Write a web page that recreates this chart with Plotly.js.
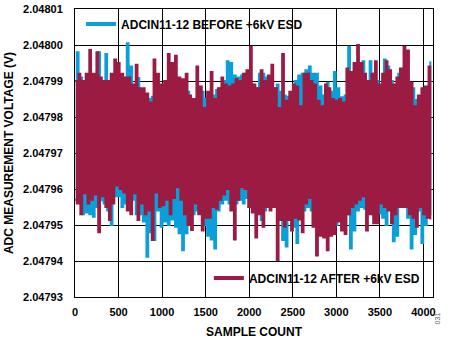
<!DOCTYPE html>
<html>
<head>
<meta charset="utf-8">
<script src="https://cdn.plot.ly/plotly-3.0.1.min.js"></script>
<style>html,body{margin:0;padding:0;background:#fff;}#chart{width:450px;height:339px;}</style>
</head>
<body>
<div id="chart"></div>
<script>
// Samples per envelope bin (each bin holds the max and min)
const binSize = 41;

// ADCIN11-12 BEFORE +6kV ESD (blue) — per-bin max / min (V)
const beforeHi = [2.047998,2.047991,2.04799,2.047989,2.047988,2.047991,2.047998,2.047989,2.0479975,2.047988,
2.047988,2.047989,2.04799,2.04799,2.0480005,2.047994,2.047988,2.0479908,2.047987,2.047986,
2.047985,2.0479856,2.047987,2.047988,2.047987,2.047987,2.047988,2.047988,2.047988,2.047988,
2.047987,2.047987,2.047985,2.047984,2.047986,2.047987,2.047985,2.047985,2.047986,2.0479875,
2.047988,2.04799,2.0479955,2.047995,2.0479915,2.047991,2.0479915,2.047992,2.047991,2.047989,
2.047988,2.047992,2.047992,2.047991,2.047989,2.047988,2.047989,2.047987,2.047986,2.0479856,
2.047986,2.04799,2.0479915,2.047992,2.047993,2.047994,2.047992,2.047992,2.0479885,2.047986,
2.0479895,2.047987,2.0479925,2.047988,2.0479855,2.047986,2.0479995,2.04799,2.047989,2.04799,
2.0479955,2.04799,2.0479955,2.047992,2.04799,2.0479885,2.047996,2.047994,2.04799,2.047988,
2.047992,2.047989,2.047988,2.047989,2.047988,2.0479847,2.047985,2.047986,2.047988,2.0479955];
const beforeLo = [2.047957,2.047957,2.047953,2.0479535,2.047953,2.0479523,2.047955,2.0479569,2.047956,2.047954,
2.04795,2.047958,2.047958,2.047955,2.047956,2.047956,2.047957,2.047953,2.047953,2.047951,
2.0479412,2.047948,2.0479458,2.047954,2.0479495,2.047951,2.04795,2.0479515,2.0479495,2.0479477,
2.047943,2.0479477,2.047952,2.047953,2.047954,2.047955,2.04795,2.047947,2.047946,2.0479435,
2.047954,2.047956,2.047957,2.047956,2.047955,2.047956,2.047957,2.047956,2.0479575,2.047956,
2.047955,2.047954,2.0479514,2.047954,2.047955,2.047955,2.047955,2.047955,2.0479458,2.047944,
2.047952,2.0479495,2.047945,2.047952,2.047954,2.047955,2.047954,2.047954,2.04795,2.04795,
2.047951,2.04795,2.047949,2.04795,2.047952,2.047951,2.047953,2.0479435,2.0479485,2.047954,
2.047955,2.0479545,2.047954,2.047953,2.047953,2.0479532,2.047952,2.04795,2.047957,2.0479455,
2.047947,2.047957,2.047955,2.047952,2.0479435,2.0479475,2.047954,2.047945,2.04795,2.047953];

// ADCIN11-12 AFTER +6kV ESD (maroon) — per-bin max / min (V)
const afterHi = [2.04799,2.047992,2.04799,2.047992,2.0479986,2.047992,2.047998,2.047991,2.04799,2.04799,
2.047992,2.047996,2.047995,2.047992,2.047991,2.047991,2.047989,2.0479945,2.047988,2.047988,
2.0479865,2.047984,2.047996,2.047992,2.047989,2.04799,2.0479975,2.047995,2.047997,2.047991,
2.0479905,2.047992,2.047986,2.047985,2.047994,2.0479885,2.0479825,2.047987,2.0479925,2.047985,
2.047988,2.047991,2.047989,2.0479885,2.047989,2.0479905,2.04799,2.047992,2.047993,2.0479995,
2.047989,2.047988,2.047993,2.04799,2.0479915,2.0479945,2.047988,2.0479825,2.0479975,2.0479845,
2.047987,2.047989,2.0479885,2.047983,2.047992,2.047992,2.04799,2.047989,2.0479845,2.047983,
2.047989,2.047988,2.047985,2.0479845,2.047985,2.047984,2.0479935,2.0479925,2.047995,2.048,
2.047995,2.047992,2.04799,2.047992,2.0479955,2.047989,2.047992,2.0479955,2.047993,2.047989,
2.047991,2.0479935,2.0479995,2.0479985,2.0479895,2.047983,2.047986,2.047988,2.0479885,2.047994];
const afterLo = [2.047956,2.047953,2.0479588,2.047956,2.047957,2.0479585,2.047948,2.047958,2.047955,2.0479514,
2.047956,2.047961,2.04796,2.047959,2.047954,2.047953,2.0479588,2.0479514,2.047956,2.047953,
2.047954,2.0479458,2.047959,2.047955,2.0479555,2.047957,2.047953,2.0479575,2.0479605,2.047957,
2.047953,2.04795,2.0479486,2.047956,2.047953,2.0479485,2.047952,2.047952,2.047955,2.0479545,
2.047957,2.0479585,2.04796,2.047954,2.047946,2.047957,2.0479605,2.04796,2.047955,2.0479535,
2.0479465,2.047953,2.0479495,2.047955,2.047954,2.047955,2.0479403,2.0479514,2.0479495,2.0479514,
2.0479485,2.047952,2.0479515,2.047948,2.047956,2.0479575,2.0479495,2.0479415,2.047947,2.0479465,
2.047943,2.047947,2.0479475,2.047951,2.0479485,2.0479475,2.047953,2.047955,2.047956,2.047957,
2.047958,2.0479485,2.047953,2.0479505,2.0479505,2.047956,2.047955,2.047954,2.0479505,2.047953,
2.047955,2.047955,2.047955,2.047953,2.047952,2.0479495,2.047955,2.047953,2.047952,2.0479515];

const seriesNames = ['ADCIN11-12 BEFORE +6kV ESD', 'ADCIN11-12 AFTER +6kV ESD'];
const xTicks = [0, 500, 1000, 1500, 2000, 2500, 3000, 3500, 4000];
const yTicks = [2.04793, 2.04794, 2.04795, 2.04796, 2.04797, 2.04798, 2.04799, 2.04800, 2.04801];

const blueC = '#0a9fd8';
const redC = '#9b1b42';

// build a stepped noise trace that swings between each bin's max and min
function zig(first, second) {
  const xs = [], ys = [];
  for (let i = 0; i < first.length; i++) {
    xs.push(i * binSize); ys.push(first[i]);
    xs.push(i * binSize + binSize / 2); ys.push(second[i]);
  }
  return {xs, ys};
}
const b = zig(beforeLo, beforeHi);
const a = zig(afterHi, afterLo);

const traces = [
  {x: b.xs, y: b.ys, type: 'scatter', mode: 'lines', name: seriesNames[0],
   line: {color: blueC, width: 2, shape: 'hv'}, showlegend: false, hoverinfo: 'skip'},
  {x: a.xs, y: a.ys, type: 'scatter', mode: 'lines', name: seriesNames[1],
   line: {color: redC, width: 2, shape: 'hv'}, showlegend: false, hoverinfo: 'skip'},
  {x: [null], y: [null], type: 'scatter', mode: 'lines', name: seriesNames[0],
   line: {color: blueC, width: 4}, legend: 'legend'},
  {x: [null], y: [null], type: 'scatter', mode: 'lines', name: seriesNames[1],
   line: {color: redC, width: 4}, legend: 'legend2'}
];

const fontFam = '"Liberation Sans", Arial, sans-serif';
const layout = {
  width: 450, height: 339,
  margin: {l: 75, r: 17, t: 9, b: 42},
  paper_bgcolor: '#fff', plot_bgcolor: '#fff',
  font: {family: fontFam, size: 11, color: '#000', weight: 'bold'},
  xaxis: {
    range: [0, 4110], tickvals: xTicks, ticktext: xTicks.map(String),
    showgrid: true, gridcolor: '#000', gridwidth: 1,
    showline: true, linecolor: '#000', linewidth: 1, mirror: true,
    zeroline: false, ticks: '', ticklabelstandoff: 5,
    tickfont: {family: fontFam, size: 11, weight: 'bold'},
    title: {text: 'SAMPLE COUNT', font: {family: fontFam, size: 12, weight: 'bold'}, standoff: 10}
  },
  yaxis: {
    range: [2.04793, 2.04801], tickvals: yTicks, ticktext: yTicks.map(v => v.toFixed(5)),
    showgrid: true, gridcolor: '#000', gridwidth: 1,
    showline: true, linecolor: '#000', linewidth: 1, mirror: true,
    zeroline: false, ticks: '', ticklabelstandoff: 9,
    tickfont: {family: fontFam, size: 11, weight: 'bold'},
    title: {text: 'ADC MEASUREMENT VOLTAGE (V)', font: {family: fontFam, size: 12, weight: 'bold'}, standoff: 6}
  },
  showlegend: true,
  legend: {x: 0.017, xanchor: 'left', y: 0.948, yanchor: 'middle', bgcolor: 'rgba(0,0,0,0)',
           borderwidth: 0, font: {family: fontFam, size: 12, weight: 'bold', color: '#000'}},
  legend2: {x: 0.374, xanchor: 'left', y: 0.066, yanchor: 'middle', bgcolor: 'rgba(0,0,0,0)',
            borderwidth: 0, font: {family: fontFam, size: 12, weight: 'bold', color: '#000'}},
  annotations: [{text: '031', xref: 'paper', yref: 'paper', x: 1.028, y: -0.104,
                 showarrow: false, textangle: -90, font: {family: fontFam, size: 7, color: '#666', weight: 'normal'}}]
};

Plotly.newPlot('chart', traces, layout, {staticPlot: true, displayModeBar: false});
</script>
</body>
</html>
